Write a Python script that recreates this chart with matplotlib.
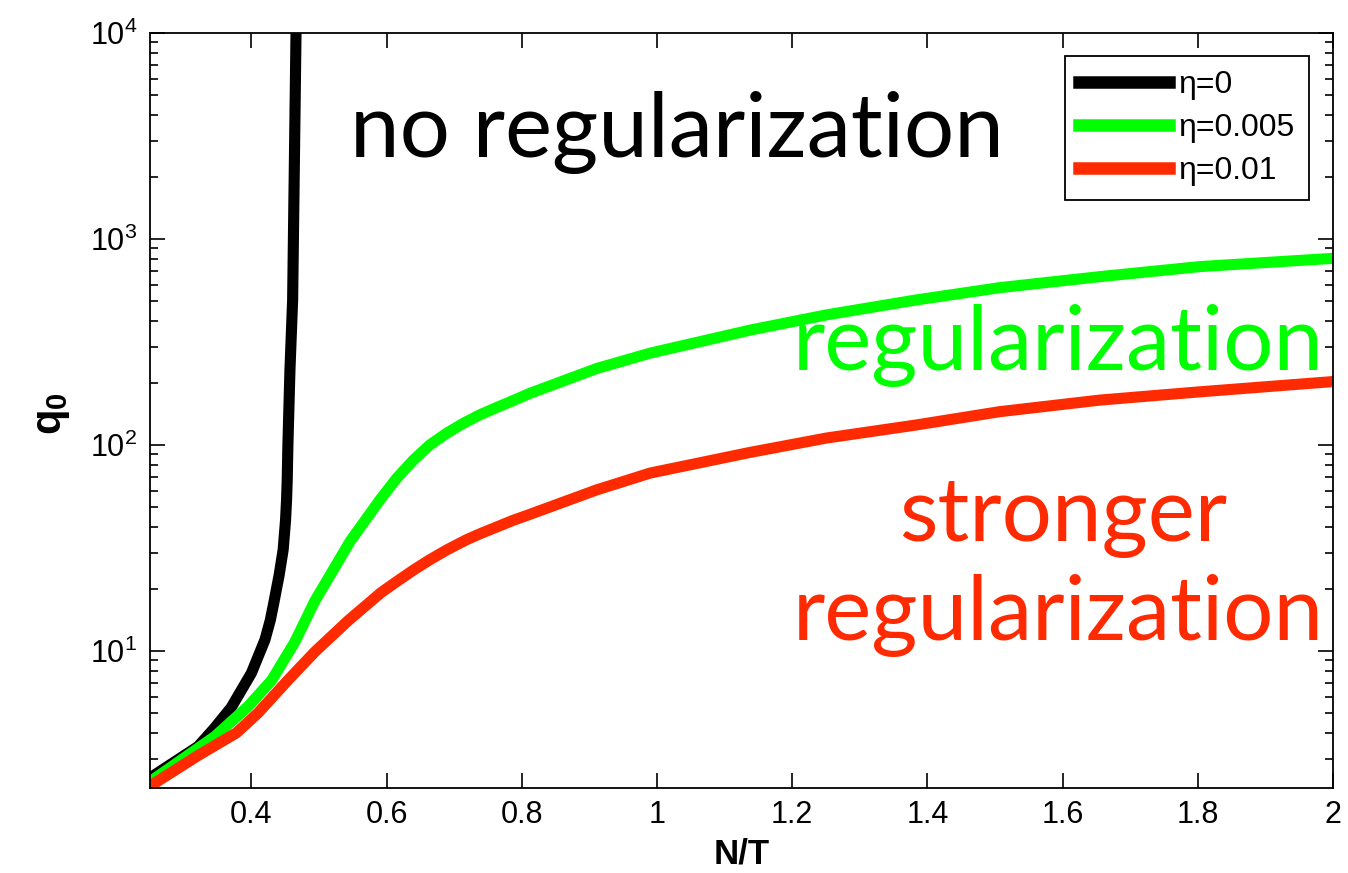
import matplotlib
matplotlib.use("Agg")
import matplotlib.pyplot as plt
from matplotlib.ticker import LogLocator, FixedLocator, NullFormatter

plt.rcParams['font.family'] = ['Liberation Sans', 'DejaVu Sans']
plt.rcParams['mathtext.fontset'] = 'custom'
plt.rcParams['mathtext.rm'] = 'Liberation Sans'
plt.rcParams['mathtext.it'] = 'Liberation Sans:italic'
plt.rcParams['mathtext.bf'] = 'Liberation Sans:bold'

# values (N/T, q0)
eta0_x = [0.250, 0.257, 0.321, 0.345, 0.370, 0.400, 0.420, 0.428, 0.433, 0.441, 0.447,
          0.4505, 0.452, 0.453, 0.454, 0.457, 0.461, 0.466, 0.467]
eta0_y = [2.35, 2.5, 3.43, 4.2, 5.3, 7.8, 11.3, 14.1, 17.0, 23.3, 31,
          43, 54, 68, 100, 230, 506, 10000, 20000]

eta005_x = [0.250, 0.257, 0.346, 0.395, 0.430, 0.464, 0.494, 0.528, 0.546, 0.590, 0.615, 0.640,
            0.664, 0.689, 0.713, 0.738, 0.763, 0.787, 0.812, 0.911, 0.990, 1.138,
            1.251, 1.384, 1.507, 1.655, 1.803, 2.0]
eta005_y = [2.32, 2.4, 3.84, 5.37, 7.2, 11.0, 17.5, 27, 34, 54, 68.9, 84.6,
            100, 114, 127, 140, 152, 164, 178, 235, 279, 361,
            428, 506, 580, 656, 734, 805]

eta01_x = [0.250, 0.257, 0.321, 0.378, 0.410, 0.454, 0.494, 0.543, 0.592, 0.615, 0.640,
           0.664, 0.689, 0.718, 0.738, 0.787, 0.812, 0.911, 0.990, 1.138,
           1.251, 1.384, 1.507, 1.655, 1.803, 2.0]
eta01_y = [2.2, 2.28, 3.1, 4.0, 5.0, 7.2, 9.9, 14.0, 19.2, 21.7, 24.7,
           27.7, 30.9, 34.6, 37, 43, 46, 60.5, 73, 92,
           108, 125, 145, 165, 181, 203]

labels = ['\u03b7=0', '\u03b7=0.005', '\u03b7=0.01']
colors = ['#000000', '#00FF00', '#FF2A00']
x_ticks = [0.4, 0.6, 0.8, 1.0, 1.2, 1.4, 1.6, 1.8, 2.0]
x_ticklabels = ['0.4', '0.6', '0.8', '1', '1.2', '1.4', '1.6', '1.8', '2']

fig = plt.figure(figsize=(13.48, 8.73), dpi=100)
ax = fig.add_axes([150 / 1348, 1 - 787.5 / 873, 1183 / 1348, 754.5 / 873])

for xs, ys, c, lab in zip([eta0_x, eta005_x, eta01_x], [eta0_y, eta005_y, eta01_y], colors, labels):
    ax.plot(xs, ys, color=c, linewidth=8, label=lab, solid_joinstyle='round')

ax.set_yscale('log')
ax.set_xlim(0.25, 2.0)
ax.set_ylim(2.17, 1e4)

ax.xaxis.set_major_locator(FixedLocator(x_ticks))
ax.set_xticklabels(x_ticklabels)
ax.yaxis.set_major_locator(LogLocator(base=10, subs=(1.0,)))
ax.yaxis.set_minor_locator(LogLocator(base=10, subs=range(2, 10)))
ax.yaxis.set_minor_formatter(NullFormatter())

ax.tick_params(which='both', direction='in', top=True, right=True, labelsize=22, width=1.2)
ax.tick_params(which='major', length=11, pad=9)
ax.tick_params(which='minor', length=6)
for s in ax.spines.values():
    s.set_linewidth(1.3)

ax.set_xlabel('N/T', fontsize=25, fontweight='bold')
ax.xaxis.set_label_coords(0.5, -0.066)
ax.set_ylabel(r'$\mathbf{q_0}$', fontsize=30)
ax.yaxis.set_label_coords(-0.066, 0.496)

leg = ax.legend(loc='upper right', bbox_to_anchor=(1309 / 1348, 1 - 56 / 873),
                bbox_transform=fig.transFigure, borderaxespad=0, fontsize=23,
                fancybox=False, framealpha=1, edgecolor='black',
                handlelength=2.8, handletextpad=0.3, labelspacing=0.4,
                borderpad=0.45)
leg.get_frame().set_linewidth(1.3)
for h in leg.get_lines():
    h.set_linewidth(9)

annot = ['Lato', 'DejaVu Sans']
fig.text(350 / 1348, 1 - 157 / 873, 'no regularization', fontsize=64, color='black',
         family=annot, ha='left', va='baseline')
fig.text(1324 / 1348, 1 - 370 / 873, 'regularization', fontsize=64, color='#00FF00',
         family=annot, ha='right', va='baseline')
fig.text(1063 / 1348, 1 - 541 / 873, 'stronger', fontsize=64, color='#FF2A00',
         family=annot, ha='center', va='baseline')
fig.text(1324 / 1348, 1 - 640 / 873, 'regularization', fontsize=64, color='#FF2A00',
         family=annot, ha='right', va='baseline')

fig.savefig('out.png', dpi=100)
